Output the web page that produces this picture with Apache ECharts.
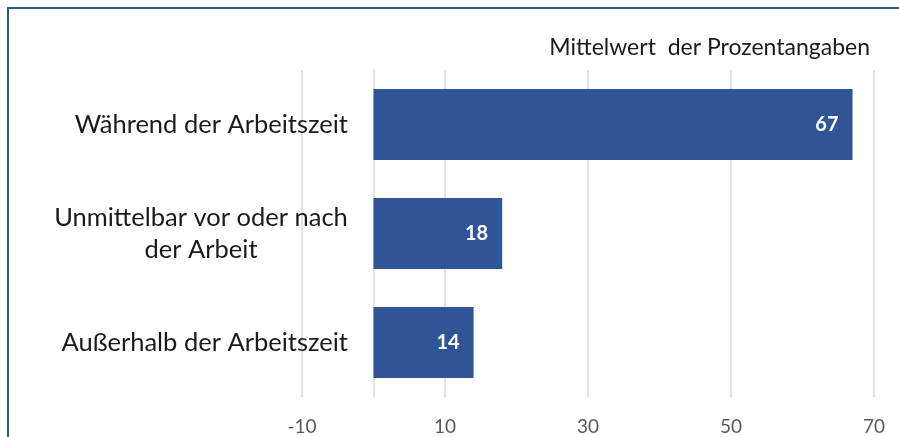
<!DOCTYPE html>
<html>
<head>
<meta charset="utf-8">
<script src="https://cdn.jsdelivr.net/npm/echarts@6/dist/echarts.min.js"></script>
<style>
  html, body { margin: 0; padding: 0; background: #ffffff; }
  #chart { width: 899px; height: 437px; }
</style>
</head>
<body>
<div id="chart"></div>
<script>
// Zeitpunkt der Nutzung – Mittelwert der Prozentangaben
const categories = [
  'Während der Arbeitszeit',
  'Unmittelbar vor oder nach\nder Arbeit',
  'Außerhalb der Arbeitszeit'
];
const values = [67, 18, 14];
const axisMin = -10;
const axisMax = 70;
const axisStep = 20;
const subtitle = 'Mittelwert  der Prozentangaben';

const fontFamily = 'Lato, "Open Sans", sans-serif';
const catFontSize = 25.5;

// widest line of the category labels, so that wrapped lines can be centred
const measureCtx = document.createElement('canvas').getContext('2d');
measureCtx.font = catFontSize + 'px ' + fontFamily;
const lineBoxWidth = Math.ceil(Math.max(
  ...categories.flatMap((c) => c.split('\n')).map((s) => measureCtx.measureText(s).width)
));

const chart = echarts.init(document.getElementById('chart'), null, { renderer: 'canvas' });

chart.setOption({
  animation: false,
  backgroundColor: '#ffffff',
  title: {
    text: subtitle,
    right: 24,
    top: 31,
    textStyle: { fontFamily, fontSize: 23, fontWeight: 'normal', color: '#1a1a1a' }
  },
  graphic: [{
    type: 'rect',
    shape: { x: 8, y: 8, width: 1000, height: 1000 },
    style: { fill: 'none', stroke: '#2E5A8A', lineWidth: 2 },
    silent: true
  }],
  grid: { left: 302, right: 25, top: 70, bottom: 40, containLabel: false },
  xAxis: {
    type: 'value',
    min: axisMin,
    max: axisMax,
    interval: axisStep,
    axisLine: { show: false },
    axisTick: { show: false },
    splitLine: { show: true, lineStyle: { color: '#d9d9d9', width: 1.5 } },
    axisLabel: { fontFamily, fontSize: 19, color: '#595959', margin: 20 }
  },
  yAxis: {
    type: 'category',
    data: categories,
    inverse: true,
    axisLine: { show: true, onZero: true, lineStyle: { color: '#d9d9d9', width: 1.5 } },
    axisTick: { show: false },
    axisLabel: {
      fontFamily,
      fontSize: catFontSize,
      color: '#1a1a1a',
      margin: -46,
      align: 'right',
      lineHeight: 32,
      formatter: (v) => {
        const lines = v.split('\n');
        if (lines.length === 1) return v;
        return lines.map((s) => '{c|' + s + '}').join('\n');
      },
      rich: {
        c: {
          width: lineBoxWidth,
          align: 'center',
          fontFamily,
          fontSize: catFontSize,
          lineHeight: 32,
          color: '#1a1a1a'
        }
      }
    }
  },
  series: [{
    type: 'bar',
    data: values,
    barCategoryGap: '35%',
    itemStyle: { color: '#2F5597' },
    label: {
      show: true,
      position: 'insideRight',
      distance: 14,
      fontFamily,
      fontSize: 20,
      fontWeight: 'bold',
      color: '#ffffff'
    }
  }]
});
</script>
</body>
</html>
